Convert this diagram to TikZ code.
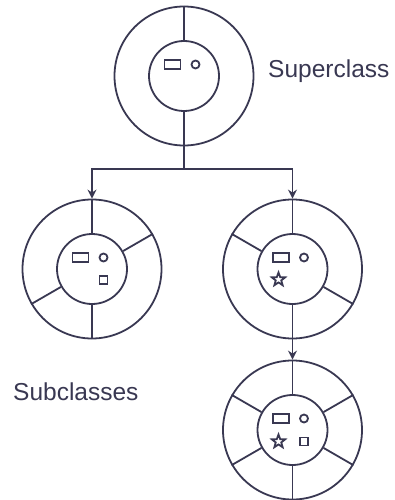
\documentclass[tikz,border=0pt]{standalone}
\usepackage{fontspec}
\setmainfont{Liberation Sans}
\usepackage{tikz}
\usetikzlibrary{arrows.meta,shapes.geometric}
\definecolor{ink}{RGB}{57,56,82}

\begin{document}
\begin{tikzpicture}[x=1pt,y=-1pt,>={Stealth[length=9pt,width=9pt,inset=3pt]},
    ring/.style={circle,draw=ink,line width=1.8pt,inner sep=0pt,minimum size=139pt},
    core/.style={circle,draw=ink,line width=1.8pt,inner sep=0pt,minimum size=70pt},
    slot/.style={rectangle,draw=ink,line width=1.8pt,inner sep=0pt,minimum width=16pt,minimum height=8.5pt},
    dot/.style={circle,draw=ink,line width=1.8pt,inner sep=0pt,minimum size=8pt},
    box/.style={rectangle,draw=ink,line width=1.8pt,inner sep=0pt,minimum size=8pt},
    badge/.style={star,star points=5,star point ratio=2.4,draw=ink,line width=1.8pt,inner sep=0pt,minimum size=14pt},
    spoke/.style={draw=ink,line width=1.8pt},
    link/.style={->,draw=ink,line width=1.8pt},
    caption/.style={text=ink,inner sep=0pt,font=\fontsize{24.5}{28}\selectfont}]
        \useasboundingbox (0,0) rectangle (394,500);

        % class circles
        \node[ring] (super) at (184,76) {};
        \node[core] (super-c) at (super.center) {};
        \node[ring] (subA) at (92,269) {};
        \node[core] (subA-c) at (subA.center) {};
        \node[ring] (subB) at (292.5,269) {};
        \node[core] (subB-c) at (subB.center) {};
        \node[ring] (subC) at (292.5,430) {};
        \node[core] (subC-c) at (subC.center) {};

        % spokes between core and ring
        \foreach \a in {90,270} \path[spoke] (super.\a) -- (super-c.\a);
        \foreach \a in {90,30,270,210} \path[spoke] (subA.\a) -- (subA-c.\a);
        \foreach \a in {90,150,270,330} \path[spoke] (subB.\a) -- (subB-c.\a);
        \foreach \a in {30,90,150,210,270,330} \path[spoke] (subC.\a) -- (subC-c.\a);

        % members inside the cores
        \node[slot] (super-slot) at ([shift={(-11.5,-11.5)}]super.center) {};
        \node[dot] (super-dot) at ([shift={(11.5,-11.5)}]super.center) {};

        \node[slot] (subA-slot) at ([shift={(-11.5,-11.5)}]subA.center) {};
        \node[dot] (subA-dot) at ([shift={(11.5,-11.5)}]subA.center) {};
        \node[box] (subA-box) at ([shift={(11.5,11)}]subA.center) {};

        \node[slot] (subB-slot) at ([shift={(-11.5,-11.5)}]subB.center) {};
        \node[dot] (subB-dot) at ([shift={(11.5,-11.5)}]subB.center) {};
        \node[badge] (subB-star) at ([shift={(-14,10.5)}]subB.center) {};

        \node[slot] (subC-slot) at ([shift={(-11.5,-11.5)}]subC.center) {};
        \node[dot] (subC-dot) at ([shift={(11.5,-11.5)}]subC.center) {};
        \node[badge] (subC-star) at ([shift={(-14,11.5)}]subC.center) {};
        \node[box] (subC-box) at ([shift={(11.5,11.5)}]subC.center) {};

        % inheritance arrows
        \coordinate (fork) at (184,169);
        \path[spoke] (super.south) -- (fork);
        \path[link] (fork) -| (subA.north);
        \path[link] (fork) -| (subB.north);
        \path[link] (subB.south) -- (subC.north);

        % labels
        \node[caption,anchor=base west] (super-label) at (268,77.5) {Superclass};
        \node[caption,anchor=base west] (sub-label) at (13,400) {Subclasses};
      \end{tikzpicture}
\end{document}
